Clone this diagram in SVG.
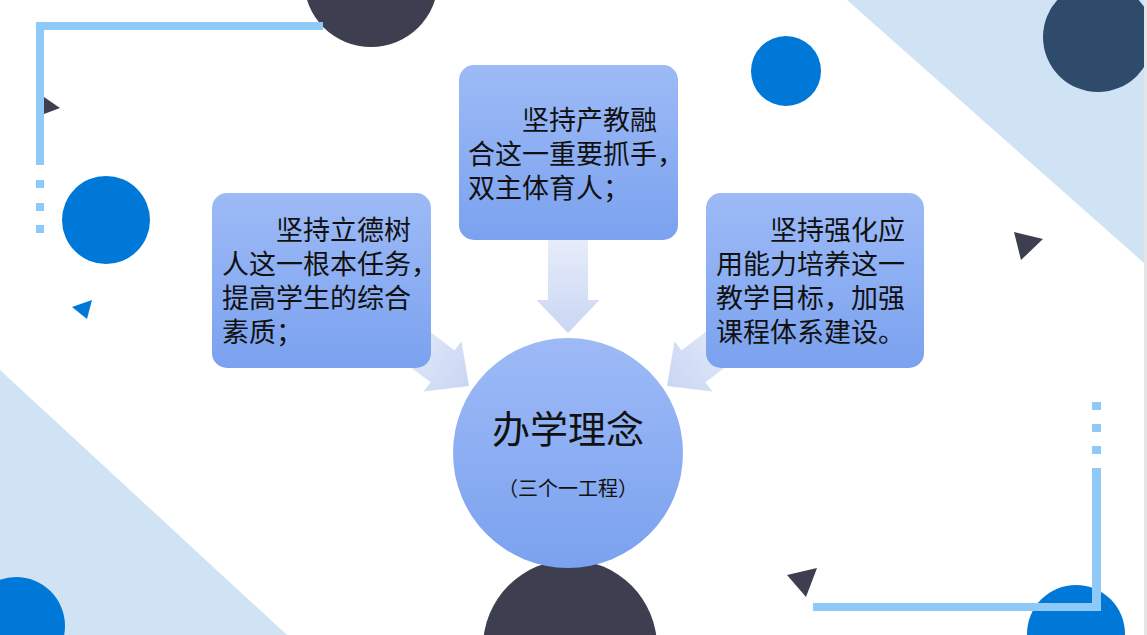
<svg xmlns="http://www.w3.org/2000/svg" width="1147" height="635" viewBox="0 0 1147 635">
<defs>
<linearGradient id="gBox" x1="0" y1="0" x2="0" y2="1">
<stop offset="0" stop-color="#9dbaf6"/>
<stop offset="1" stop-color="#7ba2ef"/>
</linearGradient>
<linearGradient id="gArrow" x1="0" y1="0" x2="0" y2="1">
<stop offset="0" stop-color="#e6ecf9"/>
<stop offset="1" stop-color="#c9d6f4"/>
</linearGradient>
<path id="arrowShape" d="M-20,0 L20,0 L20,60 L31.5,60 L0,93 L-31.5,60 L-20,60 Z"/>
<style>
.bg-light{fill:#cfe3f5}
.line{fill:#8ec9f7}
.dark{fill:#3d3f50}
.navy{fill:#2f4b6c}
.blue{fill:#0078d7}
.box{fill:url(#gBox)}
.arrow{fill:url(#gArrow)}
.t{font-family:"Noto Sans CJK SC","Noto Sans",sans-serif;fill:#111}
.bt{font-size:27px}
</style>
</defs>
<rect width="1147" height="635" fill="#ffffff"/>
<g id="background">
<polygon class="bg-light" points="847,0 1144,0 1144,263"/>
<polygon class="bg-light" points="0,370 287,635 0,635"/>
<rect x="1144" y="0" width="3" height="635" fill="#e4e4e6"/>
<circle class="navy" cx="1098" cy="37" r="55"/>
<rect x="1144" y="0" width="3" height="100" fill="#e4e4e6"/>
<circle class="dark" cx="371" cy="-20" r="67"/>
<circle class="blue" cx="786" cy="71" r="35"/>
<circle class="blue" cx="106" cy="220" r="44"/>
<circle class="blue" cx="16" cy="626" r="49"/>
<circle class="blue" cx="1076" cy="634" r="49"/>
<circle class="dark" cx="570" cy="647" r="87"/>
<path class="line" d="M36,22 H323 V30 H44 V165 H36 Z"/>
<rect class="line" x="36" y="180" width="8" height="8"/>
<rect class="line" x="36" y="203" width="8" height="8"/>
<rect class="line" x="36" y="225" width="8" height="8"/>
<path class="line" d="M1092,468 H1101 V611 H813 V603 H1092 Z"/>
<rect class="line" x="1092" y="402" width="9" height="8"/>
<rect class="line" x="1092" y="424" width="9" height="8"/>
<rect class="line" x="1092" y="446" width="9" height="8"/>
<polygon class="dark" points="44,97 60,108 44,114"/>
<polygon class="blue" points="72,307 92,300 87,319"/>
<polygon class="dark" points="1014,232 1043,239 1021,260"/>
<polygon class="dark" points="787,575 817,568 806,597"/>
</g>
<g id="connectors">
<use href="#arrowShape" class="arrow" transform="translate(568,240)"/>
<use href="#arrowShape" class="arrow" transform="translate(394.6,330.2) rotate(-53.13)"/>
<use href="#arrowShape" class="arrow" transform="translate(741.4,330.2) rotate(53.13)"/>
</g>
<g id="node-top">
<rect class="box" x="459" y="65" width="219" height="175" rx="15"/>
<text class="t bt"><tspan x="522" y="130">坚持产教融</tspan><tspan x="468" y="164">合这一重要抓手，</tspan><tspan x="468" y="198">双主体育人；</tspan></text>
</g>
<g id="node-left">
<rect class="box" x="212" y="193" width="219" height="175" rx="15"/>
<text class="t bt"><tspan x="276" y="240">坚持立德树</tspan><tspan x="222" y="274">人这一根本任务，</tspan><tspan x="222" y="308">提高学生的综合</tspan><tspan x="222" y="342">素质；</tspan></text>
</g>
<g id="node-right">
<rect class="box" x="706" y="193" width="218" height="175" rx="15"/>
<text class="t bt"><tspan x="770" y="240">坚持强化应</tspan><tspan x="716" y="274">用能力培养这一</tspan><tspan x="716" y="308">教学目标，加强</tspan><tspan x="716" y="342">课程体系建设。</tspan></text>
</g>
<g id="node-center">
<circle class="box" cx="568" cy="453" r="115"/>
<text class="t" x="568" y="443" font-size="38" text-anchor="middle">办学理念</text>
<text class="t" x="568" y="496" font-size="20" text-anchor="middle">（三个一工程）</text>
</g>
</svg>
